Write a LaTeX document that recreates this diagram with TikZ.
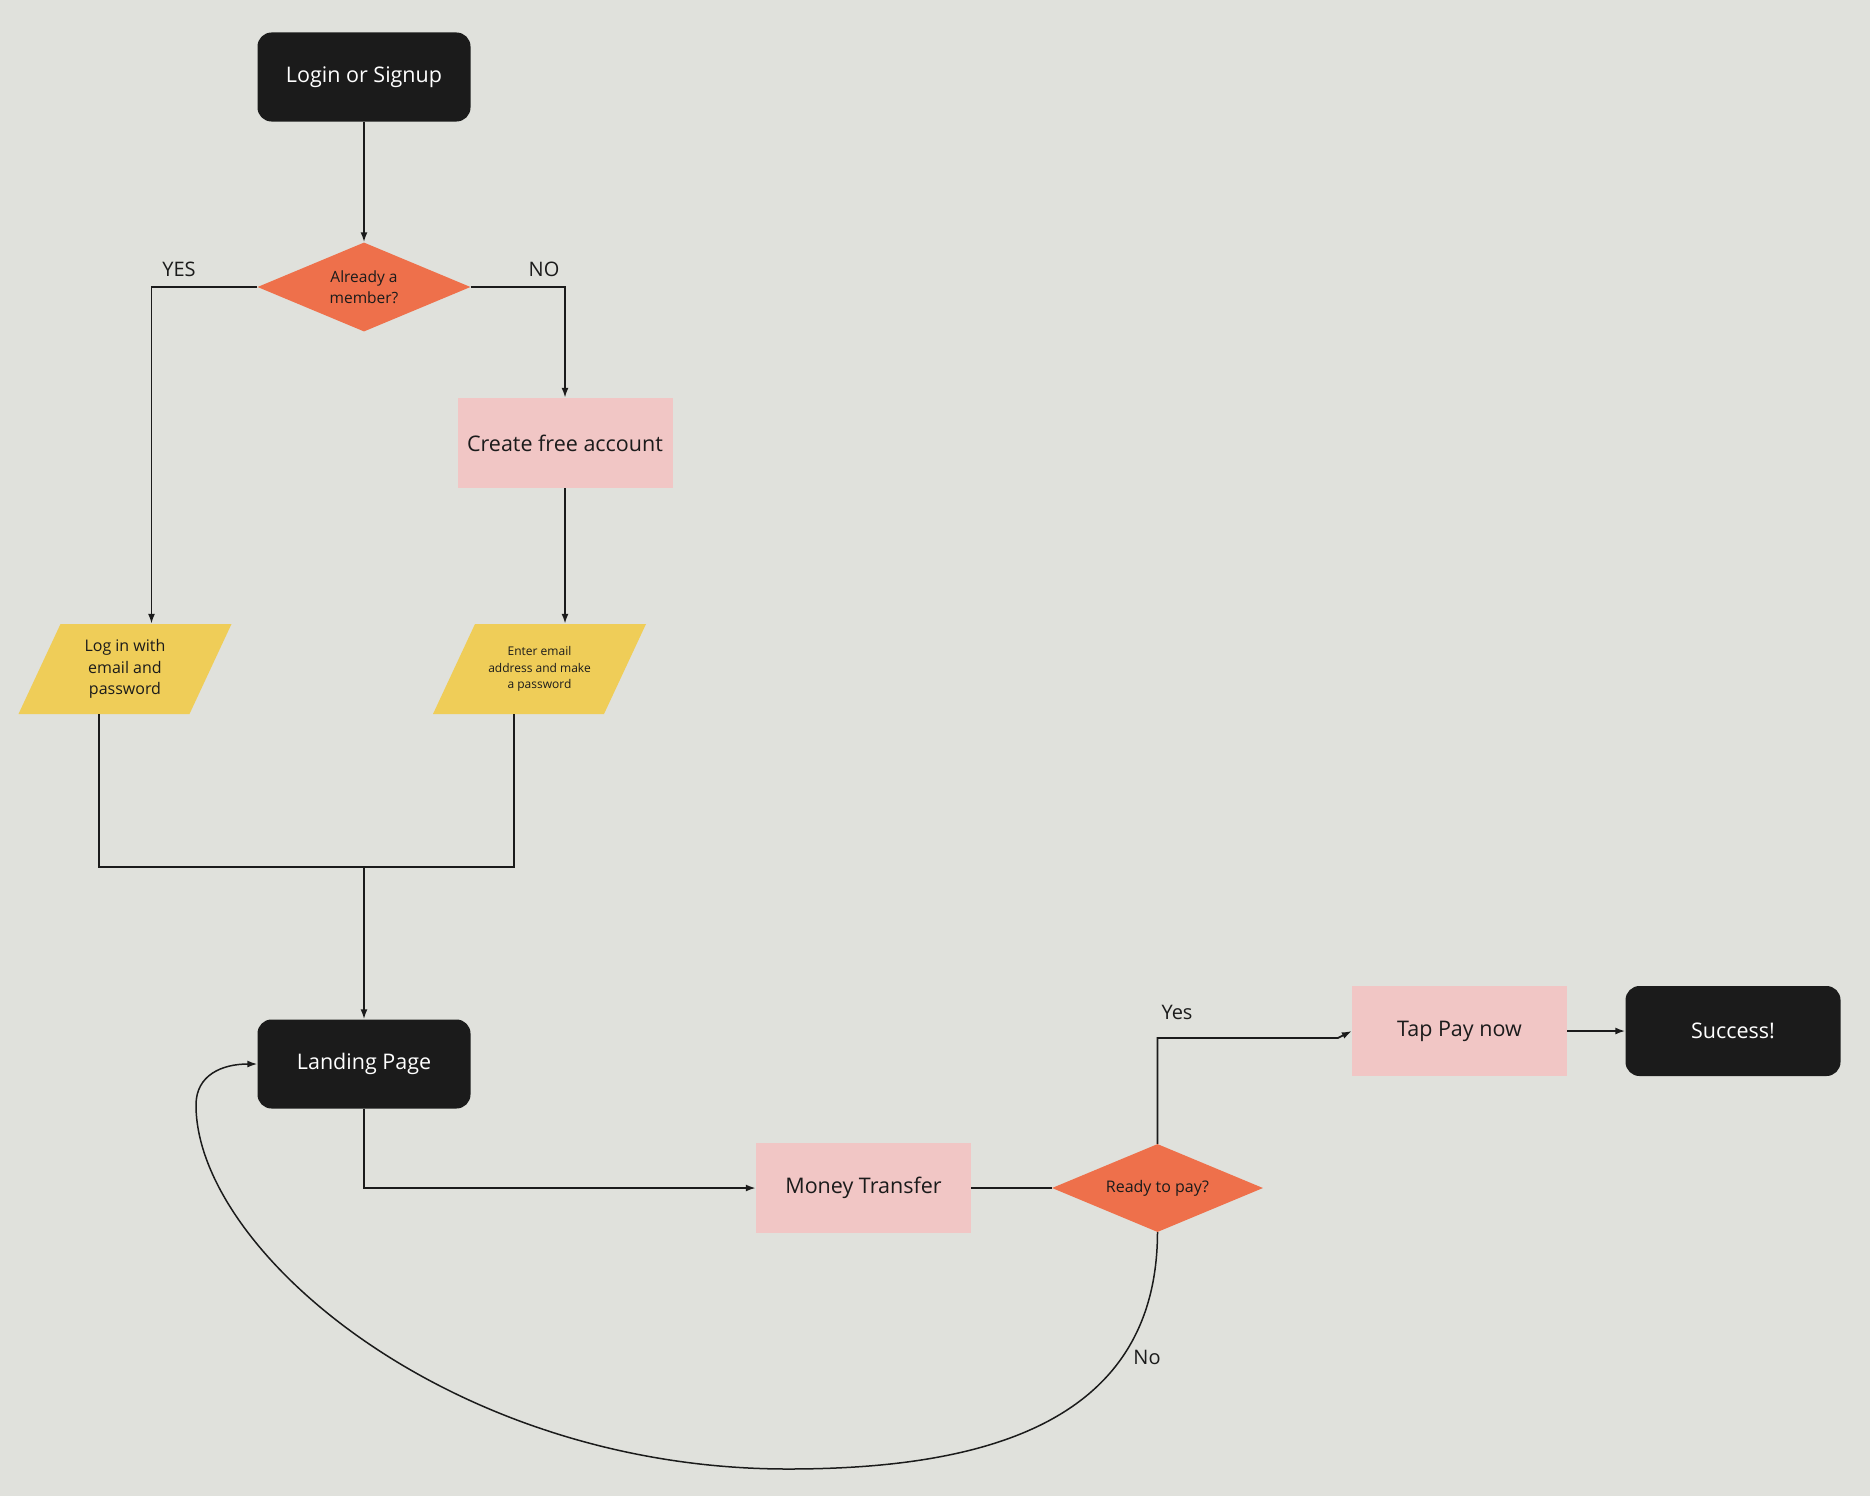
\documentclass[tikz,border=0pt]{standalone}
\usepackage{fontspec}
\setmainfont{Open Sans}
\usetikzlibrary{shapes.geometric,arrows.meta}
\definecolor{bgc}{HTML}{E0E1DC}
\definecolor{blk}{HTML}{1B1B1B}
\definecolor{orng}{HTML}{EE704B}
\definecolor{pnk}{HTML}{F1C6C5}
\definecolor{ylw}{HTML}{EFCD58}
\tikzset{
  term/.style={rectangle, rounded corners=14pt, fill=blk, text=white, minimum width=213pt, minimum height=89pt, inner sep=0pt, font=\fontsize{21.5}{24}\selectfont},
  proc/.style={rectangle, fill=pnk, text=blk, minimum width=215pt, minimum height=90pt, inner sep=0pt, font=\fontsize{21.5}{24}\selectfont},
  dec/.style={diamond, aspect=2.4, fill=orng, text=blk, minimum width=213pt, minimum height=89pt, inner sep=0pt, align=center},
  io/.style={rectangle, text=blk, minimum width=213pt, minimum height=90pt, inner sep=0pt, align=center,
    path picture={\fill[ylw] ([xshift=42pt]path picture bounding box.north west) -- (path picture bounding box.north east)
      -- ([xshift=-42pt]path picture bounding box.south east) -- (path picture bounding box.south west) -- cycle;}},
  conn/.style={draw=blk, line width=1.8pt},
  arr/.style={conn, -{Latex[length=10pt,width=7pt]}},
  lbl/.style={text=blk, font=\fontsize{20}{24}\selectfont, inner sep=0pt}
}
\begin{document}
\begin{tikzpicture}[x=1pt,y=-1pt]
\fill[bgc] (0,0) rectangle (1870,1496);
\useasboundingbox (0,0) rectangle (1870,1496);
\node[term] (login) at (364,77) {Login or Signup};
\node[dec, font=\fontsize{15.5}{21}\selectfont] (member) at (364,287) {Already a\\member?};
\node[proc] (create) at (565,443) {Create free account};
\node[io, font=\fontsize{16}{21.5}\selectfont] (logpw) at (125,669) {Log in with\\email and\\password};
\node[io, font=\fontsize{12}{16.5}\selectfont] (enter) at (539.5,669) {Enter email\\address and make\\a password};
\node[term] (landing) at (364,1064) {Landing Page};
\node[proc] (money) at (863.5,1188) {Money Transfer};
\node[dec, aspect=2.4, minimum width=211pt, minimum height=88pt, font=\fontsize{16}{20}\selectfont] (ready) at (1157.5,1188) {Ready to pay?};
\node[proc] (tap) at (1459.5,1031) {Tap Pay now};
\node[term, minimum width=215pt, minimum height=90pt] (success) at (1733,1031) {Success!};
\coordinate (merge) at (364,867);
\node[lbl] (yes1) at (179,269.5) {YES};
\node[lbl] (no1) at (544,269.5) {NO};
\node[lbl] (yes2) at (1177,1012.5) {Yes};
\node[lbl] (no2) at (1147,1357) {No};
\draw[arr] (login.south) -- (member.north);
\draw[arr] (member.west) -| ([xshift=26.5pt]logpw.north);
\draw[arr] (member.east) -| (create.north);
\draw[arr] (create.south) -- ([xshift=25.5pt]enter.north);
\draw[conn] ([xshift=-26pt]logpw.south) |- (merge) -| ([xshift=-25.5pt]enter.south);
\draw[arr] (merge) -- (landing.north);
\draw[arr] (landing.south) |- (money.west);
\draw[conn] (money.east) -- (ready.west);
\draw[arr] (ready.north) |- ([xshift=-14pt,yshift=-7pt]tap.west) -- (tap.west);
\draw[arr] (tap.east) -- (success.west);
\draw[arr, line width=1.5pt] (ready.south) .. controls (1157,1420) and (990,1469) .. (788,1469)
  .. controls (450,1469) and (196,1250) .. (196,1105)
  .. controls (196,1075) and (222,1064) .. (landing.west);
\end{tikzpicture}
\end{document}
